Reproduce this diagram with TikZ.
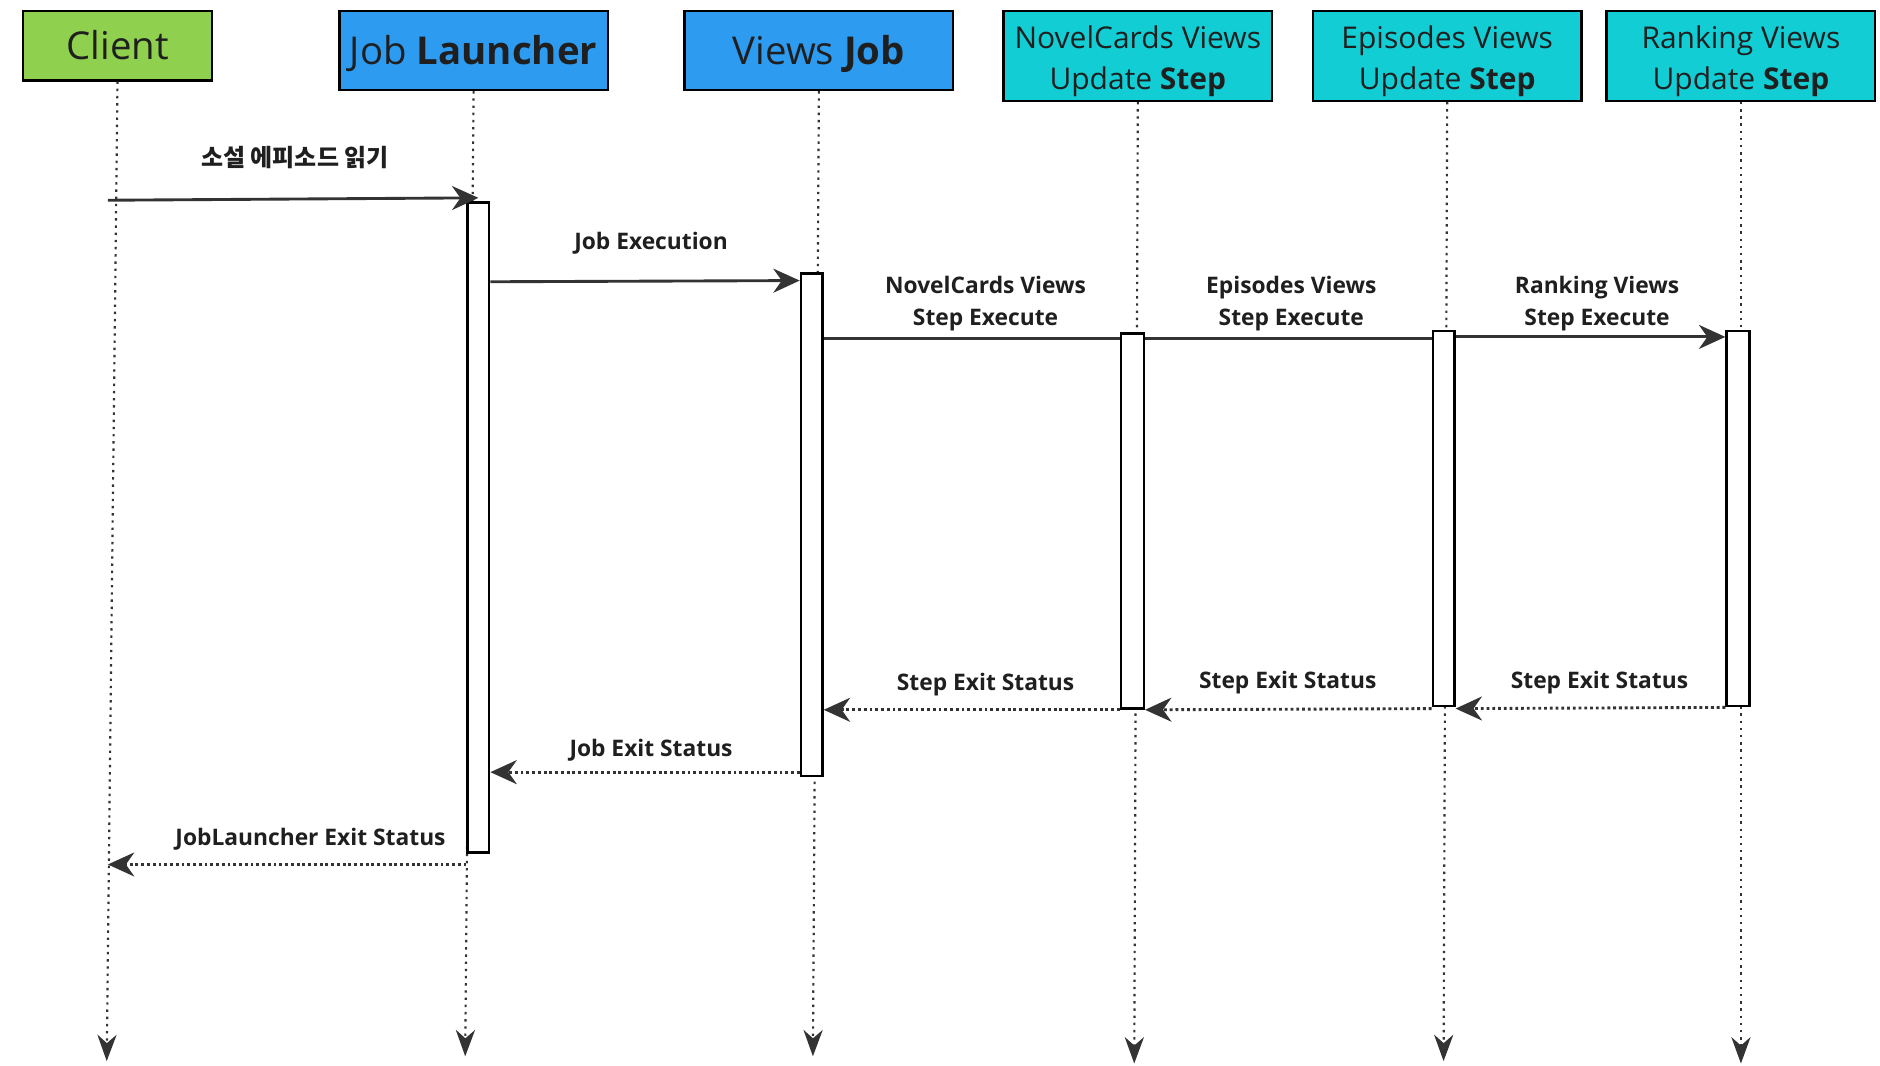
\documentclass[tikz,border=0pt]{standalone}
\usepackage{fontspec}
\setmainfont{Open Sans}
\newfontfamily\kofont{Noto Sans CJK KR}
\usetikzlibrary{arrows.meta,positioning}

\definecolor{headgreen}{HTML}{8FD14F}
\definecolor{headblue}{HTML}{2D9BF0}
\definecolor{headcyan}{HTML}{12CDD4}
\definecolor{linegray}{HTML}{333333}
\definecolor{txtgray}{HTML}{1F1F1F}

% text pushed down inside a head box
\newcommand{\downtext}[2]{\raisebox{-#1}[\height][\depth]{#2}}
\newcommand{\twolines}[2]{\downtext{2pt}{\begin{tabular}{@{}c@{}}#1\\#2\end{tabular}}}

\tikzset{
  head/.style={draw=black, line width=1pt, inner sep=0pt, text=txtgray,
    minimum width=112pt, align=center},
  bighead/.style={head, font=\fontsize{16}{19}\selectfont, minimum height=33pt},
  stephead/.style={head, fill=headcyan, font=\fontsize{12.5}{17}\selectfont,
    minimum height=37.5pt},
  act/.style={draw=black, fill=white, line width=1pt, inner sep=0pt,
    minimum width=9pt},
  life/.style={draw=linegray, line width=0.9pt, dash pattern=on 1pt off 2pt,
    -{Stealth[length=11pt,width=8pt,inset=3.5pt]}},
  call/.style={draw=linegray, line width=1.2pt,
    -{Stealth[length=11pt,width=10pt,inset=3.5pt]}},
  plain/.style={draw=linegray, line width=1.2pt},
  back/.style={draw=linegray, line width=1.2pt, dash pattern=on 1.2pt off 1.2pt,
    -{Stealth[length=11pt,width=10pt,inset=3.5pt]}},
  lbl/.style={text=txtgray, font=\bfseries\fontsize{9.5}{13.5}\selectfont,
    align=center, inner sep=0pt}
}

\begin{document}
\begin{tikzpicture}[x=0.5pt,y=-0.5pt]
\useasboundingbox (0,0) rectangle (1568,889);

% heads
\node[bighead, fill=headgreen, minimum width=79pt, minimum height=29pt] (client) at (98,38) {Client};
\node[bighead, fill=headblue] (launcher) at (395,42) {\downtext{1.5pt}{Job \textbf{Launcher}}};
\node[bighead, fill=headblue] (job) at (683,42) {\downtext{1.5pt}{Views \textbf{Job}}};
\node[stephead] (novel) at (949,46.5) {\twolines{NovelCards Views}{Update \textbf{Step}}};
\node[stephead] (episode) at (1207,46.5) {\twolines{Episodes Views}{Update \textbf{Step}}};
\node[stephead] (ranking) at (1452,46.5) {\twolines{Ranking Views}{Update \textbf{Step}}};

% lifelines
\foreach \h/\x/\y in {client/89/885, launcher/388/881, job/678/881,
    novel/946/887, episode/1204/885, ranking/1452/887}{
  \coordinate (\h-end) at (\x,\y);
  \draw[life] (\h.south) -- (\h-end);
}

% activations
\node[act, minimum height=271pt] (launcherAct) at (399,440) {};
\node[act, minimum height=209.5pt] (jobAct) at (677,437.5) {};
\node[act, minimum height=156.5pt, minimum width=9.5pt] (novelAct) at (944.5,434.5) {};
\node[act, minimum height=156.5pt] (episodeAct) at (1204,432.5) {};
\node[act, minimum height=156.5pt, minimum width=9.5pt] (rankingAct) at (1449.5,432.5) {};

% calls
\coordinate (client-in) at (90,167);
\coordinate (client-out) at (90,721);
\draw[call] (client-in) -- (launcherAct.north |- 0,165);
\node[lbl, font=\kofont\bfseries\fontsize{10}{13}\selectfont] (read) at (246,131) {소설 에피소드 읽기};

\draw[call] (launcherAct.east |- 0,235) -- (jobAct.west |- 0,234);
\node[lbl] (exec) at (543,203) {Job Execution};

\draw[plain] (jobAct.east |- 0,282) -- (novelAct.west |- 0,282);
\draw[plain] (novelAct.east |- 0,282) -- (episodeAct.west |- 0,282);
\draw[call] (episodeAct.east |- 0,281) -- (rankingAct.west |- 0,281);
\node[lbl] (novelExec) at (822,253) {NovelCards Views\\Step Execute};
\node[lbl] (episodeExec) at (1077,253) {Episodes Views\\Step Execute};
\node[lbl] (rankingExec) at (1332,253) {Ranking Views\\Step Execute};

% returns
\draw[back] (rankingAct.south west) -- (episodeAct.east |- 0,591);
\draw[back] (episodeAct.west |- 0,591) -- (novelAct.east |- 0,592);
\draw[back] (novelAct.west |- 0,592) -- (jobAct.east |- 0,592);
\node[lbl] (rankingExit) at (1334,569) {Step Exit Status};
\node[lbl] (episodeExit) at (1074,569) {Step Exit Status};
\node[lbl] (novelExit) at (822,571) {Step Exit Status};

\draw[back] (jobAct.west |- 0,644) -- (launcherAct.east |- 0,644);
\node[lbl] (jobExit) at (543,626) {Job Exit Status};

\draw[back] (launcherAct.west |- 0,721) -- (client-out);
\node[lbl] (launcherExit) at (259,700) {JobLauncher Exit Status};
\end{tikzpicture}
\end{document}
